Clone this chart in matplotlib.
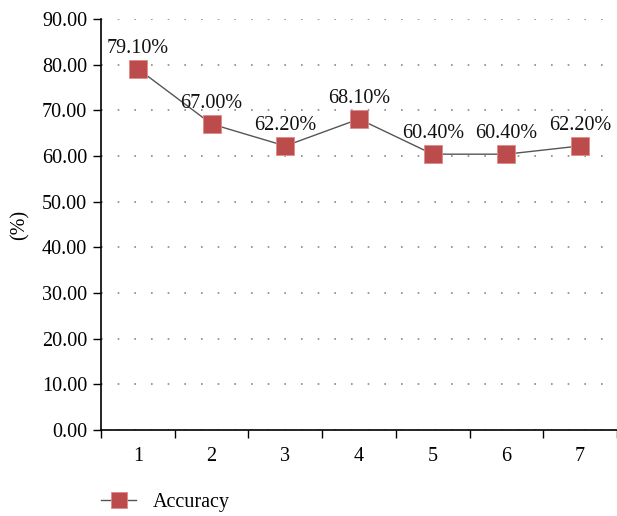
import matplotlib
matplotlib.use("Agg")
import matplotlib.pyplot as plt
from matplotlib.ticker import FixedLocator, NullFormatter

categories = [1, 2, 3, 4, 5, 6, 7]
accuracy = [79.10, 67.00, 62.20, 68.10, 60.40, 60.40, 62.20]
yticks = [0, 10, 20, 30, 40, 50, 60, 70, 80, 90]

plt.rcParams['font.family'] = ['Liberation Serif', 'DejaVu Serif']
FS = 14.5

fig = plt.figure(figsize=(6.17, 5.16), dpi=100)
ax = fig.add_axes([101/617, 1 - 430/516, (617 - 101)/617, (430 - 19)/516])

ax.plot(categories, accuracy, color='#555555', linewidth=1.0,
        marker='s', markersize=12.5, markerfacecolor='#bc4b4b',
        markeredgecolor='#e08a8a', markeredgewidth=0.6, label='Accuracy', zorder=3)

for x, v in zip(categories, accuracy):
    ax.annotate(f"{v:.2f}%", (x, v), xytext=(0, 8), textcoords='offset points',
                ha='center', va='bottom', fontsize=FS, color='#111111')

ax.set_xlim(0.5, 7.5)
ax.set_ylim(0, 90)
ax.set_yticks(yticks)
ax.set_yticklabels([f"{t:.2f}" for t in yticks])
ax.xaxis.set_major_locator(FixedLocator([c - 0.5 for c in categories] + [7.5]))
ax.xaxis.set_major_formatter(NullFormatter())
ax.xaxis.set_minor_locator(FixedLocator(categories))
ax.set_xticklabels([str(c) for c in categories], minor=True)
ax.tick_params(axis='x', which='minor', length=0, pad=12, labelsize=FS)
ax.tick_params(axis='x', which='major', length=6, width=1, direction='out')
ax.tick_params(axis='y', length=6, width=1, direction='out', labelsize=FS, pad=4)

ax.yaxis.grid(True, linestyle=(0, (1, 9)), color='#888888', linewidth=1.2)
ax.set_axisbelow(True)
for s in ['top', 'right']:
    ax.spines[s].set_visible(False)
ax.spines['left'].set_linewidth(1.2)
ax.spines['bottom'].set_linewidth(1.2)
ax.set_ylabel('(%)', fontsize=FS, labelpad=9)

leg = fig.legend(loc='center left', bbox_to_anchor=(83/617, 1 - 502/516), frameon=False,
                 fontsize=FS, handlelength=1.75, handletextpad=0.8, markerscale=0.9)

fig.savefig('out.png', dpi=100)
